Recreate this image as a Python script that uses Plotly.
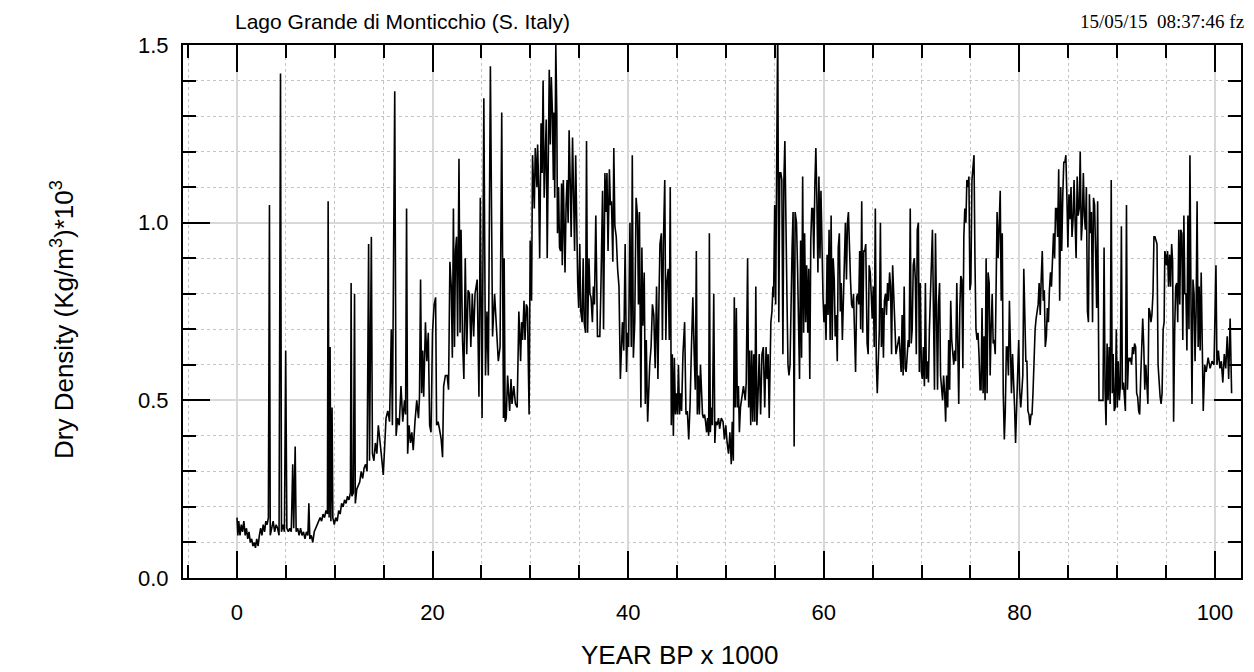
import plotly.graph_objects as go

# (age ka BP, dry density) pairs, by segment
seg_00_16 = [(0.0,0.17),(0.09,0.12),(0.18,0.16),(0.31,0.12),(0.44,0.15),(0.57,0.13),(0.7,0.16),(0.84,0.12),(0.97,0.14),(1.1,0.11),
 (1.23,0.13),(1.36,0.10),(1.5,0.11),(1.63,0.09),(1.76,0.10),(1.89,0.085),(2.02,0.11),(2.16,0.09),(2.29,0.12),(2.42,0.14),
 (2.55,0.12),(2.68,0.15),(2.82,0.13),(2.95,0.16),(3.08,0.15),(3.21,0.17),(3.32,1.05),(3.4,0.12),(3.55,0.14),(3.7,0.16),
 (3.85,0.13),(4.0,0.15),(4.15,0.14),(4.3,0.12),(4.45,1.42),(4.55,0.13),(4.7,0.15),(4.85,0.13),(4.98,0.64),(5.1,0.14),
 (5.25,0.13),(5.4,0.14),(5.55,0.13),(5.7,0.32),(5.8,0.14),(5.95,0.37),(6.05,0.13),(6.2,0.14),(6.35,0.12),(6.5,0.14),
 (6.65,0.12),(6.8,0.13),(6.95,0.11),(7.1,0.13),(7.25,0.12),(7.35,0.21),(7.45,0.11),(7.6,0.12),(7.75,0.10),(7.9,0.13),
 (8.05,0.14),(8.2,0.15),(8.35,0.16),(8.5,0.17),(8.65,0.16),(8.8,0.18),(8.95,0.17),(9.1,0.19),(9.25,0.18),(9.32,1.06),
 (9.42,0.17),(9.52,0.65),(9.6,0.16),(9.72,0.48),(9.8,0.17),(9.95,0.15),(10.1,0.17),(10.25,0.16),(10.4,0.19),(10.55,0.18),
 (10.7,0.21),(10.85,0.20),(11.0,0.22),(11.15,0.21),(11.3,0.23),(11.45,0.22),(11.6,0.24),(11.67,0.83),(11.75,0.23),(11.9,0.24),
 (12.02,0.80),(12.1,0.21),(12.25,0.25),(12.4,0.26),(12.55,0.27),(12.7,0.30),(12.85,0.28),(13.0,0.31),(13.15,0.32),(13.3,0.30),
 (13.46,0.94),(13.55,0.33),(13.74,0.96),(13.85,0.35),(14.0,0.33),(14.15,0.38),(14.3,0.35),(14.45,0.43),(14.6,0.38),(14.75,0.35),
 (14.96,0.29),(15.07,0.375),(15.24,0.45),(15.42,0.47),(15.6,0.44),(15.78,0.70),(15.89,0.43)]

seg_16_27 = [(16.13,1.37),(16.27,0.40),(16.42,0.45),(16.59,0.43),(16.77,0.54),(16.95,0.44),(17.13,0.50),(17.24,0.46),(17.34,1.04),
 (17.45,0.35),(17.59,0.43),(17.74,0.38),(17.88,0.41),(18.02,0.36),(18.2,0.44),(18.38,0.50),(18.56,0.45),(18.66,0.51),(18.77,0.84),
 (18.88,0.52),(18.99,0.64),(19.09,0.51),(19.27,0.72),(19.41,0.61),(19.56,0.69),(19.7,0.43),(19.84,0.41),(19.99,0.69),(20.16,0.77),
 (20.31,0.79),(20.41,0.43),(20.56,0.44),(20.7,0.42),(20.88,0.39),(21.02,0.34),(21.13,0.54),(21.31,0.57),(21.49,0.57),(21.63,0.53),
 (21.77,0.89),(21.91,0.82),(22.02,0.62),(22.13,1.04),(22.24,0.65),(22.34,0.92),(22.45,0.96),(22.56,0.68),(22.7,1.18),(22.81,0.69),
 (22.91,0.98),(23.06,0.67),(23.2,0.56),(23.34,0.90),(23.49,0.63),(23.63,0.81),(23.77,0.80),(23.91,0.65),(24.06,0.80),(24.2,0.68),
 (24.34,0.80),(24.56,0.84),(24.74,0.51),(24.88,1.07),(25.06,0.45),(25.24,1.35),(25.41,0.57),(25.56,0.75),(25.7,0.57),(25.91,1.44),
 (26.13,0.68),(26.34,0.80)]

seg_27_37 = [(26.72,0.61),(26.9,0.65),(27.07,1.31),(27.25,0.45),(27.32,0.90),(27.42,0.44),(27.53,0.45),(27.67,0.57),(27.77,0.52),
 (27.88,0.47),(28.02,0.56),(28.12,0.49),(28.30,0.54),(28.47,0.49),(28.65,0.48),(28.82,0.75),(29.0,0.61),(29.1,0.72),(29.2,0.67),
 (29.35,0.78),(29.45,0.67),(29.59,0.77),(29.7,0.76),(29.87,0.46),(29.98,0.95),(30.12,0.78),(30.22,1.19),(30.4,1.04),(30.5,1.21),
 (30.67,1.10),(30.74,1.22),(30.85,1.10),(30.95,0.90),(31.09,1.28),(31.2,1.14),(31.3,1.40),(31.41,1.07),(31.51,1.23),(31.62,1.29),
 (31.72,0.90),(31.83,1.17),(31.93,1.43),(32.04,1.22),(32.14,1.41),(32.25,1.31),(32.35,1.12),(32.42,1.31),(32.49,1.07),(32.6,1.50),
 (32.7,1.31),(32.77,0.97),(32.88,1.10),(32.98,0.93),(33.09,0.92),(33.19,1.11),(33.26,0.88),(33.37,1.12),(33.47,0.94),(33.54,0.86),
 (33.65,1.05),(33.75,1.12),(33.86,1.0),(33.96,1.26),(34.07,1.12),(34.17,0.96),(34.31,1.24),(34.42,0.98),(34.52,0.92),(34.63,1.19),
 (34.73,0.96),(34.84,0.83),(34.94,0.76),(35.05,0.94),(35.15,0.75),(35.29,0.72),(35.4,0.90),(35.5,0.72),(35.64,0.69),(35.74,1.23),
 (35.85,0.69),(35.99,0.90),(36.09,0.80),(36.2,0.79),(36.34,0.72),(36.44,0.82),(36.55,0.77),(36.69,1.02),(36.86,0.68)]

seg_37_47 = [(36.96,0.68),(37.1,0.68),(37.2,0.80),(37.38,1.09),(37.48,0.70),(37.62,1.14),(37.73,1.03),(37.83,1.14),(37.94,0.92),
 (38.08,1.15),(38.18,1.05),(38.29,1.06),(38.43,0.89),(38.53,1.21),(38.64,0.99),(38.78,0.96),(38.92,0.87),(39.06,0.82),(39.2,0.56),
 (39.3,0.66),(39.41,0.72),(39.55,0.64),(39.69,0.94),(39.83,0.58),(39.93,0.69),(40.04,0.65),(40.18,1.0),(40.32,0.65),(40.42,1.19),
 (40.53,0.62),(40.67,0.72),(40.81,1.07),(40.95,1.02),(41.05,0.77),(41.15,1.03),(41.3,0.48),(41.4,0.93),(41.5,0.71),(41.64,0.86),
 (41.75,0.49),(41.85,0.67),(41.99,0.44),(42.1,0.55),(42.2,0.60),(42.34,0.65),(42.48,0.77),(42.62,0.74),(42.76,0.59),(42.9,0.82),
 (43.04,0.56),(43.15,0.79),(43.25,0.94),(43.39,0.97),(43.5,0.67),(43.6,0.94),(43.74,1.12),(43.85,0.67),(43.95,0.83),(44.09,0.87),
 (44.2,0.67),(44.3,1.10),(44.41,0.43),(44.51,0.63),(44.62,0.40),(44.72,0.62),(44.83,0.46),(44.93,0.52),(45.04,0.46),(45.14,0.60),
 (45.25,0.46),(45.35,0.52),(45.46,0.47),(45.6,0.63),(45.77,0.72),(45.91,0.46),(46.05,0.47),(46.19,0.39),(46.33,0.49),(46.47,0.65),
 (46.61,0.79),(46.75,0.63)]

seg_47_57 = [(46.86,0.53),(46.97,0.92),(47.07,0.46),(47.18,0.57),(47.28,0.46),(47.39,0.60),(47.49,0.53),(47.6,0.46),(47.7,0.45),
 (47.81,0.46),(47.91,0.44),(48.02,0.41),(48.12,0.45),(48.23,0.40),(48.3,0.97),(48.4,0.41),(48.51,0.48),(48.61,0.43),(48.75,0.80),
 (48.86,0.38),(48.96,0.44),(49.1,0.43),(49.24,0.45),(49.35,0.42),(49.52,0.45),(49.7,0.44),(49.84,0.39),(49.98,0.43),(50.12,0.38),
 (50.26,0.35),(50.4,0.41),(50.54,0.32),(50.64,0.44),(50.75,0.33),(50.85,0.79),(50.95,0.48),(51.06,0.76),(51.16,0.48),(51.27,0.54),
 (51.37,0.41),(51.48,0.48),(51.58,0.50),(51.69,0.51),(51.79,0.54),(51.97,0.50),(52.07,0.55),(52.21,0.90),(52.32,0.48),(52.42,0.64),
 (52.53,0.43),(52.63,0.64),(52.74,0.44),(52.84,0.63),(52.95,0.44),(53.05,0.82),(53.16,0.43),(53.26,0.50),(53.4,0.63),(53.54,0.46),
 (53.68,0.63),(53.82,0.65),(53.96,0.48),(54.1,0.65),(54.21,0.56),(54.31,0.63),(54.42,0.45),(54.52,0.61),(54.59,0.72),(54.7,0.75),
 (54.8,0.82),(54.87,0.79),(54.98,1.05),(55.08,0.77),(55.19,1.14),(55.29,1.56),(55.4,0.72),(55.5,1.14),(55.61,1.14),(55.71,1.12),
 (55.82,0.63),(55.92,1.12),(56.02,1.23),(56.13,0.92),(56.23,0.80),(56.34,0.60),(56.44,0.57),(56.55,0.60),(56.65,0.82),(56.76,0.93)]

seg_57_68 = [(56.86,1.03),(56.97,0.37),(57.07,1.03),(57.21,1.0),(57.32,0.87),(57.42,0.69),(57.52,0.56),(57.63,0.95),(57.73,0.62),
 (57.84,1.13),(57.94,0.69),(58.04,0.97),(58.15,0.72),(58.25,0.88),(58.36,0.69),(58.46,0.87),(58.57,0.56),(58.67,0.95),(58.77,1.04),
 (58.88,1.04),(58.98,0.90),(59.09,1.11),(59.19,1.21),(59.29,1.07),(59.4,0.86),(59.5,1.13),(59.61,0.90),(59.71,1.09),(59.82,0.87),
 (59.92,0.79),(60.02,0.72),(60.13,0.77),(60.23,0.67),(60.34,0.91),(60.44,0.74),(60.54,0.98),(60.65,0.67),(60.75,1.02),(60.86,0.67),
 (60.96,0.90),(61.07,0.84),(61.17,0.68),(61.27,0.74),(61.38,0.61),(61.48,0.93),(61.59,0.97),(61.69,0.75),(61.79,0.83),(61.9,0.67),
 (62.0,0.80),(62.11,0.85),(62.21,1.0),(62.32,0.84),(62.42,1.0),(62.52,1.03),(62.63,0.89),(62.73,0.84),(62.84,0.77),(62.94,0.76),
 (63.04,0.80),(63.15,0.70),(63.25,0.58),(63.36,0.79),(63.46,0.80),(63.57,0.77),(63.67,0.92),(63.77,0.70),(63.88,1.06),(63.98,0.69),
 (64.09,0.92),(64.19,0.92),(64.29,0.94),(64.43,0.66),(64.54,0.63),(64.64,0.88),(64.75,0.86),(64.85,0.80),(64.95,0.73),(65.06,0.82),
 (65.16,0.65),(65.27,1.04),(65.37,0.61),(65.47,0.52),(65.58,0.64),(65.68,0.70),(65.79,1.0),(65.89,0.65),(66.0,0.76),(66.1,0.62),
 (66.2,0.78),(66.31,0.80),(66.41,0.74),(66.52,0.83),(66.62,0.78),(66.73,0.86),(66.83,0.82),(66.93,0.63),(67.04,0.88),(67.14,0.80),
 (67.28,0.74),(67.38,0.63)]

seg_68_78 = [(67.7,0.68),(67.8,0.63),(67.91,0.58),(68.01,0.74),(68.11,0.57),(68.22,0.82),(68.32,0.59),(68.42,0.58),(68.53,0.65),
 (68.63,0.67),(68.73,0.65),(68.84,1.04),(68.94,0.66),(69.04,0.70),(69.15,0.88),(69.25,0.90),(69.36,0.84),(69.46,0.63),(69.56,0.98),
 (69.67,1.0),(69.77,0.58),(69.87,0.83),(69.98,0.58),(70.08,0.56),(70.18,0.65),(70.29,0.54),(70.39,0.83),(70.49,0.56),(70.6,0.61),
 (70.7,0.55),(70.8,0.70),(70.91,0.80),(71.01,0.84),(71.11,0.98),(71.22,0.74),(71.32,0.53),(71.42,0.97),(71.53,0.63),(71.63,0.53),
 (71.73,0.77),(71.84,0.83),(71.94,0.57),(72.04,0.52),(72.15,0.50),(72.25,0.57),(72.36,0.52),(72.46,0.44),(72.56,0.57),(72.67,0.48),
 (72.77,0.67),(72.87,0.53),(72.98,0.78),(73.08,0.67),(73.18,0.64),(73.29,0.60),(73.39,0.64),(73.49,0.61),(73.6,0.83),(73.7,0.65),
 (73.8,0.49),(73.91,0.76),(74.01,0.85),(74.11,0.84),(74.22,0.59),(74.32,0.96),(74.42,1.04),(74.53,1.0),(74.63,1.12),(74.73,1.10),
 (74.84,1.13),(74.94,0.81),(75.04,0.83),(75.15,1.12),(75.25,1.15),(75.36,1.19),(75.46,0.89),(75.56,0.70),(75.67,0.67),(75.77,0.69),
 (75.87,0.63),(75.98,0.53),(76.08,0.53),(76.18,0.76),(76.29,0.52),(76.39,0.68),(76.49,0.50),(76.6,0.90),(76.7,0.52),(76.8,0.86),
 (76.91,0.83),(77.01,0.57),(77.11,0.70),(77.22,0.80),(77.32,0.66),(77.42,0.67),(77.53,0.63),(77.63,0.90)]

seg_78_89 = [(77.72,1.03),(77.83,0.90),(77.93,1.02),(78.04,1.09),(78.14,0.78),(78.25,0.97),(78.35,0.52),(78.46,0.39),(78.56,0.47),
 (78.67,0.65),(78.77,0.65),(78.88,0.57),(78.98,0.78),(79.09,0.57),(79.19,0.52),(79.3,0.63),(79.4,0.52),(79.51,0.48),(79.61,0.38),
 (79.72,0.47),(79.82,0.55),(79.93,0.67),(80.03,0.53),(80.14,0.48),(80.24,0.52),(80.35,0.57),(80.45,0.87),(80.56,0.72),(80.66,0.61),
 (80.77,0.61),(80.87,0.47),(80.98,0.46),(81.08,0.43),(81.19,0.46),(81.29,0.46),(81.39,0.52),(81.5,0.63),(81.61,0.70),(81.71,0.73),
 (81.81,0.76),(81.92,0.77),(82.02,0.83),(82.13,0.74),(82.23,0.84),(82.34,0.92),(82.44,0.78),(82.55,0.81),(82.65,0.65),(82.76,0.68),
 (82.86,0.76),(82.97,0.72),(83.07,0.81),(83.18,0.86),(83.28,0.82),(83.39,0.88),(83.49,0.97),(83.6,0.90),(83.7,1.04),(83.81,1.04),
 (83.91,0.96),(84.02,1.15),(84.12,0.78),(84.23,1.10),(84.33,0.92),(84.44,1.08),(84.54,1.17),(84.65,1.17),(84.75,1.19),(84.86,1.07),
 (84.96,0.93),(85.07,1.08),(85.17,1.01),(85.28,1.10),(85.38,0.96),(85.49,1.01),(85.59,1.12),(85.7,1.0),(85.8,0.90),(85.91,1.13),
 (86.01,1.02),(86.12,1.04),(86.22,1.20),(86.33,0.95),(86.43,1.0),(86.54,1.14),(86.64,1.02),(86.75,0.98),(86.85,1.10),(86.96,0.75),
 (87.06,0.72),(87.16,1.08),(87.27,0.97),(87.37,1.03),(87.48,0.72),(87.58,1.07),(87.69,1.05),(87.79,0.92),(87.9,0.76),(88.0,1.06),
 (88.14,0.50)]

seg_89_99 = [(88.55,0.50),(88.66,0.93),(88.76,0.53),(88.86,0.43),(88.97,0.66),(89.07,0.50),(89.18,0.65),(89.28,0.49),(89.39,1.12),
 (89.49,0.52),(89.59,0.63),(89.7,0.47),(89.8,0.48),(89.91,0.70),(90.01,0.48),(90.11,0.61),(90.22,0.50),(90.32,0.54),(90.43,0.99),
 (90.53,0.53),(90.64,0.55),(90.74,0.49),(90.84,0.47),(90.95,1.05),(91.05,0.53),(91.16,0.62),(91.26,0.61),(91.36,0.62),(91.47,0.60),
 (91.57,0.65),(91.68,0.63),(91.78,0.66),(91.89,0.65),(91.99,0.52),(92.09,0.51),(92.2,0.47),(92.3,0.46),(92.41,0.57),(92.51,0.63),
 (92.61,0.73),(92.72,0.65),(92.82,0.53),(92.93,0.60),(93.03,0.56),(93.14,0.49),(93.24,0.76),(93.34,0.75),(93.45,0.72),(93.55,0.74),
 (93.66,0.80),(93.76,0.96),(93.86,0.96),(93.97,0.95),(94.07,0.94),(94.18,0.60),(94.28,0.55),(94.39,0.51),(94.49,0.49),(94.59,0.52),
 (94.7,0.70),(94.8,0.72),(94.87,0.92),(94.94,0.91),(95.04,0.88),(95.15,0.92),(95.25,0.82),(95.36,0.91),(95.46,0.82),(95.57,0.94),
 (95.67,0.89),(95.77,0.44),(95.88,0.70),(95.98,0.82),(96.09,0.83),(96.19,0.72),(96.3,0.98),(96.4,0.77),(96.5,0.98),(96.61,0.97),
 (96.71,0.67),(96.82,1.02),(96.92,0.80),(97.03,0.80),(97.13,0.64),(97.23,1.02),(97.34,0.70),(97.44,1.19),(97.55,0.77),(97.65,0.49),
 (97.75,0.84),(97.86,0.80),(97.96,0.61),(98.07,0.75),(98.17,1.06),(98.28,0.65),(98.38,0.82),(98.48,0.64),(98.59,0.86),(98.69,0.61),
 (98.8,0.47)]

seg_99_102 = [(98.95,0.60),(99.1,0.58),(99.3,0.62),(99.5,0.59),(99.7,0.61),(99.9,0.60),(100.1,0.88),(100.2,0.60),(100.35,0.64),
 (100.5,0.59),(100.65,0.61),(100.8,0.55),(100.95,0.63),(101.1,0.59),(101.25,0.68),(101.4,0.56),(101.55,0.73),(101.7,0.52)]

segments = [seg_00_16, seg_16_27, seg_27_37, seg_37_47, seg_47_57, seg_57_68, seg_68_78, seg_78_89, seg_89_99, seg_99_102]
age = [p[0] for s in segments for p in s]
density = [p[1] for s in segments for p in s]

x_tick_values = [0, 20, 40, 60, 80, 100]
y_tick_values = [0.0, 0.5, 1.0, 1.5]

title_text = "Lago Grande di Monticchio (S. Italy)"
stamp_text = "15/05/15  08:37:46 fz"
x_title = "YEAR BP x 1000"
y_title = "Dry Density (Kg/m<sup>3</sup>)*10<sup>3</sup>"

fig = go.Figure(go.Scatter(x=age, y=density, mode="lines",
                           line=dict(color="black", width=1.6), hoverinfo="skip"))

sans = "Liberation Sans, Arial, sans-serif"
# page body has an 8px margin: figure is 1246x664 so the plot sits where the reference has it
L, T, W, H = 175, 37, 1058, 533
fig.update_layout(
    width=1246, height=664,
    margin=dict(l=L, r=13, t=T, b=94),
    plot_bgcolor="white", paper_bgcolor="white",
    showlegend=False,
    font=dict(family=sans, color="black", size=22),
    annotations=[
        dict(text=title_text, xref="paper", yref="paper", x=(225-L)/W, y=1+(T-14)/H,
             xanchor="left", yanchor="middle", showarrow=False, font=dict(family=sans, size=21)),
        dict(text=stamp_text, xref="paper", yref="paper", x=(1238-L)/W, y=1+(T-14)/H,
             xanchor="right", yanchor="middle", showarrow=False,
             font=dict(family="Liberation Serif, Times New Roman, serif", size=19)),
        dict(text=x_title, xref="paper", yref="paper", x=(672-L)/W, y=1-(647-T)/H,
             xanchor="center", yanchor="middle", showarrow=False, font=dict(family=sans, size=26)),
        dict(text=y_title, xref="paper", yref="paper", x=(54-L)/W, y=1-(312-T)/H,
             xanchor="center", yanchor="middle", textangle=-90, showarrow=False,
             font=dict(family=sans, size=26)),
    ],
)

fig.update_xaxes(
    range=[-5.52, 102.66], tickmode="array", tickvals=x_tick_values,
    ticks="inside", ticklen=27, tickwidth=2, tickcolor="black",
    showline=True, linecolor="black", linewidth=2, mirror="allticks",
    showgrid=True, gridcolor="#d8d8d8", gridwidth=2, zeroline=False,
    tickfont=dict(size=22), ticklabelstandoff=14,
    minor=dict(tickmode="linear", tick0=0, dtick=5, ticks="inside", ticklen=13, tickwidth=2,
               tickcolor="black", showgrid=True, gridcolor="#c4c4c4", griddash="dot", gridwidth=1),
)
fig.update_yaxes(
    range=[0, 1.5], tickmode="array", tickvals=y_tick_values, tickformat=".1f",
    ticks="inside", ticklen=27, tickwidth=2, tickcolor="black",
    showline=True, linecolor="black", linewidth=2, mirror="allticks",
    showgrid=True, gridcolor="#d8d8d8", gridwidth=2, zeroline=False,
    tickfont=dict(size=22), ticklabelstandoff=8,
    minor=dict(tickmode="linear", tick0=0, dtick=0.1, ticks="inside", ticklen=13, tickwidth=2,
               tickcolor="black", showgrid=True, gridcolor="#c4c4c4", griddash="dot", gridwidth=1),
)

fig.write_html("out.html")
